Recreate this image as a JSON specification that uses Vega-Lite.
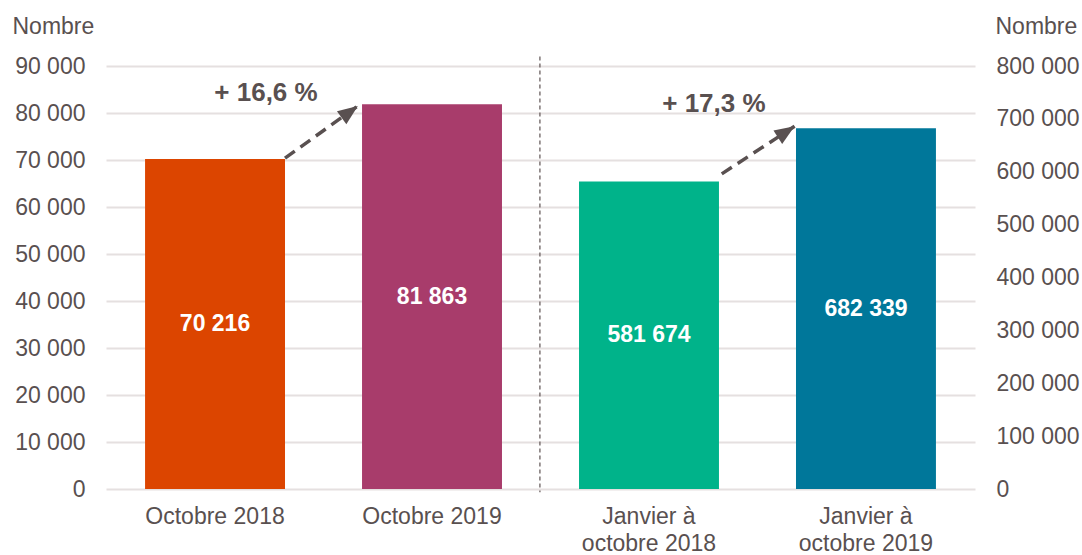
{
  "$schema": "https://vega.github.io/schema/vega-lite/v6.json",
  "width": 869,
  "height": 423,
  "autosize": {"type": "none"},
  "padding": {"left": 106, "top": 66, "right": 107, "bottom": 66},
  "background": "white",
  "config": {
    "view": {"stroke": null},
    "locale": {"number": {"decimal": ",", "thousands": " ", "grouping": [3], "currency": ["", " €"]}},
    "scale": {"bandPaddingInner": 0.355, "bandPaddingOuter": 0.18},
    "axis": {
      "labelFont": "Liberation Sans",
      "labelFontSize": 23,
      "labelColor": "#595050",
      "titleFont": "Liberation Sans",
      "titleFontSize": 23,
      "titleFontWeight": "normal",
      "titleColor": "#595050",
      "domain": false,
      "ticks": false
    },
    "axisX": {
      "title": null,
      "labelAngle": 0,
      "labelPadding": 16,
      "labelBaseline": "top",
      "labelLineHeight": 27,
      "labelLimit": 400,
      "labelOverlap": false
    },
    "text": {"font": "Liberation Sans"}
  },
  "datasets": {
    "barres": [
      {"periode": "Octobre 2018", "groupe": "mois", "nombre": 70216},
      {"periode": "Octobre 2019", "groupe": "mois", "nombre": 81863},
      {"periode": "Janvier à octobre 2018", "groupe": "cumul", "nombre": 581674},
      {"periode": "Janvier à octobre 2019", "groupe": "cumul", "nombre": 682339}
    ],
    "fleches": [
      {"groupe": "mois", "depart": "Octobre 2018", "arrivee": "Octobre 2019", "y_depart": 70400, "y_arrivee": 81500, "evolution": "+ 16,6 %"},
      {"groupe": "cumul", "depart": "Janvier à octobre 2018", "arrivee": "Janvier à octobre 2019", "y_depart": 596000, "y_arrivee": 686000, "evolution": "+ 17,3 %"}
    ]
  },
  "layer": [
    {
      "data": {"name": "barres"},
      "transform": [{"filter": "datum.groupe === 'mois'"}],
      "mark": {"type": "bar"},
      "encoding": {
        "x": {
          "field": "periode", "type": "nominal", "sort": null,
          "scale": {"domain": ["Octobre 2018", "Octobre 2019", "Janvier à octobre 2018", "Janvier à octobre 2019"]},
          "axis": {
            "orient": "bottom",
            "title": null,
            "labelExpr": "datum.value == 'Janvier à octobre 2018' ? ['Janvier à', 'octobre 2018'] : datum.value == 'Janvier à octobre 2019' ? ['Janvier à', 'octobre 2019'] : datum.value"
          }
        },
        "y": {
          "field": "nombre", "type": "quantitative",
          "scale": {"domain": [0, 90000], "nice": false},
          "axis": {
            "orient": "left",
            "values": [0, 10000, 20000, 30000, 40000, 50000, 60000, 70000, 80000, 90000],
            "format": ",.0f",
            "grid": true,
            "gridColor": "#E5E0E0",
            "gridWidth": 2,
            "labelPadding": 21,
            "title": "Nombre",
            "titleAngle": 0,
            "titleAlign": "left",
            "titleBaseline": "alphabetic",
            "titleX": -94,
            "titleY": -33
          }
        },
        "color": {
          "field": "periode", "type": "nominal",
          "scale": {
            "domain": ["Octobre 2018", "Octobre 2019", "Janvier à octobre 2018", "Janvier à octobre 2019"],
            "range": ["#DC4500", "#A83C6B", "#00B38A", "#00779A"]
          },
          "legend": null
        }
      }
    },
    {
      "data": {"name": "barres"},
      "transform": [{"filter": "datum.groupe === 'cumul'"}],
      "mark": {"type": "bar"},
      "encoding": {
        "x": {
          "field": "periode", "type": "nominal", "sort": null,
          "scale": {"domain": ["Octobre 2018", "Octobre 2019", "Janvier à octobre 2018", "Janvier à octobre 2019"]}
        },
        "y": {
          "field": "nombre", "type": "quantitative",
          "scale": {"domain": [0, 800000], "nice": false},
          "axis": {
            "orient": "right",
            "values": [0, 100000, 200000, 300000, 400000, 500000, 600000, 700000, 800000],
            "format": ",.0f",
            "grid": false,
            "labelPadding": 21,
            "title": "Nombre",
            "titleAngle": 0,
            "titleAlign": "left",
            "titleBaseline": "alphabetic",
            "titleX": 20,
            "titleY": -33
          }
        },
        "color": {
          "field": "periode", "type": "nominal",
          "scale": {
            "domain": ["Octobre 2018", "Octobre 2019", "Janvier à octobre 2018", "Janvier à octobre 2019"],
            "range": ["#DC4500", "#A83C6B", "#00B38A", "#00779A"]
          },
          "legend": null
        }
      }
    },
    {
      "data": {"name": "fleches"},
      "transform": [{"filter": "datum.groupe === 'mois'"}],
      "mark": {"type": "rule", "color": "#595050", "strokeWidth": 3.5, "strokeDash": [12, 7]},
      "encoding": {
        "x": {
          "field": "depart", "type": "nominal", "bandPosition": 1,
          "scale": {"domain": ["Octobre 2018", "Octobre 2019", "Janvier à octobre 2018", "Janvier à octobre 2019"]}
        },
        "x2": {"field": "arrivee", "bandPosition": -0.03},
        "y": {"field": "y_depart", "type": "quantitative", "scale": {"domain": [0, 90000], "nice": false}, "axis": null},
        "y2": {"field": "y_arrivee"}
      }
    },
    {
      "data": {"name": "fleches"},
      "transform": [{"filter": "datum.groupe === 'mois'"}],
      "mark": {"type": "point", "shape": "M0,0L-0.8,2L0.8,2Z", "size": 400, "filled": true, "color": "#595050", "opacity": 1, "angle": 54},
      "encoding": {
        "x": {
          "field": "arrivee", "type": "nominal", "bandPosition": -0.03,
          "scale": {"domain": ["Octobre 2018", "Octobre 2019", "Janvier à octobre 2018", "Janvier à octobre 2019"]}
        },
        "y": {"field": "y_arrivee", "type": "quantitative", "scale": {"domain": [0, 90000], "nice": false}, "axis": null}
      }
    },
    {
      "data": {"name": "fleches"},
      "transform": [{"filter": "datum.groupe === 'mois'"}],
      "mark": {"type": "text", "font": "Liberation Sans", "fontSize": 26, "fontWeight": "bold", "color": "#595050", "align": "center", "baseline": "middle"},
      "encoding": {
        "x": {
          "field": "depart", "type": "nominal", "bandPosition": 0.864,
          "scale": {"domain": ["Octobre 2018", "Octobre 2019", "Janvier à octobre 2018", "Janvier à octobre 2019"]}
        },
        "y": {"datum": 84250, "type": "quantitative", "scale": {"domain": [0, 90000], "nice": false}, "axis": null},
        "text": {"field": "evolution"}
      }
    },
    {
      "data": {"values": [{}]},
      "mark": {"type": "rule", "color": "#6A6060", "strokeWidth": 1.3, "strokeDash": [4, 3]},
      "encoding": {
        "x": {
          "datum": "Octobre 2019", "type": "nominal", "bandPosition": 1.271,
          "scale": {"domain": ["Octobre 2018", "Octobre 2019", "Janvier à octobre 2018", "Janvier à octobre 2019"]}
        },
        "y": {"datum": 92000, "type": "quantitative", "scale": {"domain": [0, 90000], "nice": false}, "axis": null},
        "y2": {"datum": -700}
      }
    },
    {
      "data": {"name": "barres"},
      "transform": [{"filter": "datum.groupe === 'mois'"}],
      "mark": {"type": "text", "font": "Liberation Sans", "fontSize": 23, "fontWeight": "bold", "color": "white", "align": "center", "baseline": "middle"},
      "encoding": {
        "x": {
          "field": "periode", "type": "nominal", "sort": null,
          "scale": {"domain": ["Octobre 2018", "Octobre 2019", "Janvier à octobre 2018", "Janvier à octobre 2019"]}
        },
        "y": {"field": "nombre", "type": "quantitative", "scale": {"domain": [0, 180000], "nice": false}, "axis": null},
        "text": {"field": "nombre", "type": "quantitative", "format": ","}
      }
    },
    {
      "data": {"name": "fleches"},
      "transform": [{"filter": "datum.groupe === 'cumul'"}],
      "mark": {"type": "rule", "color": "#595050", "strokeWidth": 3.5, "strokeDash": [12, 7]},
      "encoding": {
        "x": {
          "field": "depart", "type": "nominal", "bandPosition": 1.02,
          "scale": {"domain": ["Octobre 2018", "Octobre 2019", "Janvier à octobre 2018", "Janvier à octobre 2019"]}
        },
        "x2": {"field": "arrivee", "bandPosition": -0.01},
        "y": {"field": "y_depart", "type": "quantitative", "scale": {"domain": [0, 800000], "nice": false}, "axis": null},
        "y2": {"field": "y_arrivee"}
      }
    },
    {
      "data": {"name": "fleches"},
      "transform": [{"filter": "datum.groupe === 'cumul'"}],
      "mark": {"type": "point", "shape": "M0,0L-0.8,2L0.8,2Z", "size": 400, "filled": true, "color": "#595050", "opacity": 1, "angle": 57},
      "encoding": {
        "x": {
          "field": "arrivee", "type": "nominal", "bandPosition": -0.01,
          "scale": {"domain": ["Octobre 2018", "Octobre 2019", "Janvier à octobre 2018", "Janvier à octobre 2019"]}
        },
        "y": {"field": "y_arrivee", "type": "quantitative", "scale": {"domain": [0, 800000], "nice": false}, "axis": null}
      }
    },
    {
      "data": {"name": "fleches"},
      "transform": [{"filter": "datum.groupe === 'cumul'"}],
      "mark": {"type": "text", "font": "Liberation Sans", "fontSize": 26, "fontWeight": "bold", "color": "#595050", "align": "center", "baseline": "middle"},
      "encoding": {
        "x": {
          "field": "depart", "type": "nominal", "bandPosition": 0.964,
          "scale": {"domain": ["Octobre 2018", "Octobre 2019", "Janvier à octobre 2018", "Janvier à octobre 2019"]}
        },
        "y": {"datum": 728000, "type": "quantitative", "scale": {"domain": [0, 800000], "nice": false}, "axis": null},
        "text": {"field": "evolution"}
      }
    },
    {
      "data": {"name": "barres"},
      "transform": [{"filter": "datum.groupe === 'cumul'"}],
      "mark": {"type": "text", "font": "Liberation Sans", "fontSize": 23, "fontWeight": "bold", "color": "white", "align": "center", "baseline": "middle"},
      "encoding": {
        "x": {
          "field": "periode", "type": "nominal", "sort": null,
          "scale": {"domain": ["Octobre 2018", "Octobre 2019", "Janvier à octobre 2018", "Janvier à octobre 2019"]}
        },
        "y": {"field": "nombre", "type": "quantitative", "scale": {"domain": [0, 1600000], "nice": false}, "axis": null},
        "text": {"field": "nombre", "type": "quantitative", "format": ","}
      }
    }
  ],
  "resolve": {"scale": {"y": "independent"}, "axis": {"y": "independent"}}
}
